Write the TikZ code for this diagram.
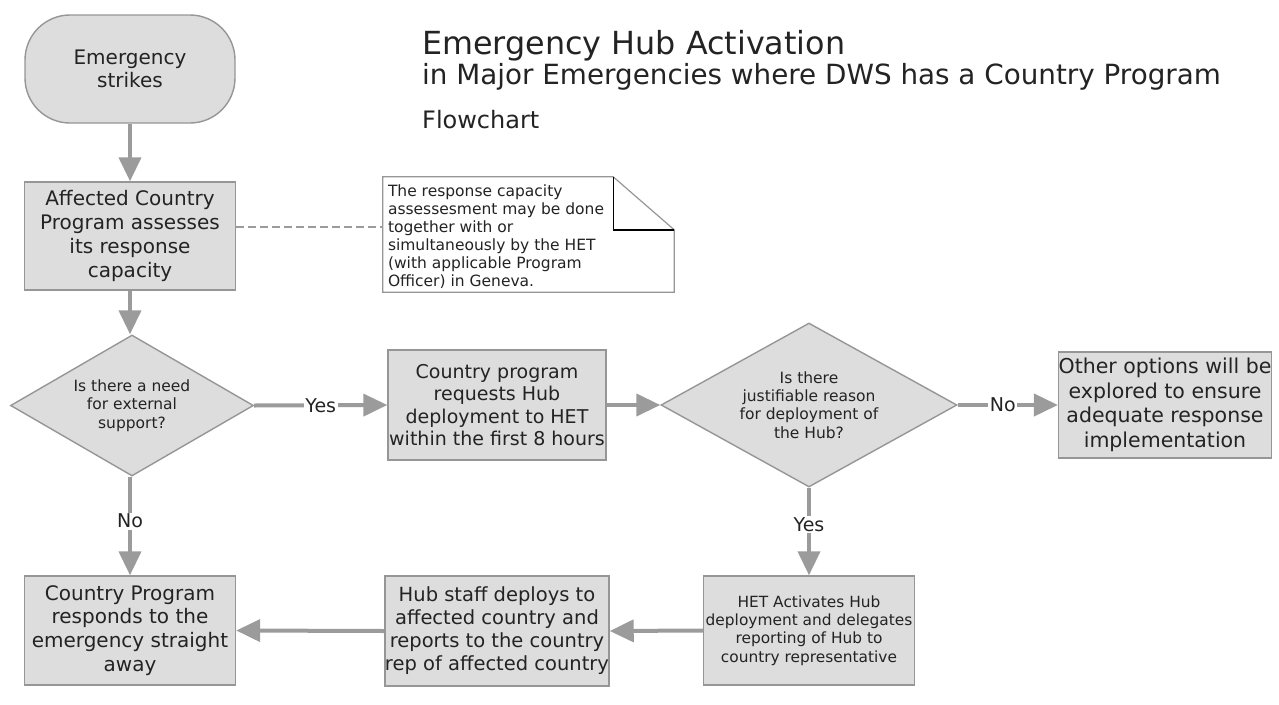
\documentclass[tikz,border=0pt]{standalone}
\usepackage{fontspec}
\setmainfont{DejaVu Sans}
\usetikzlibrary{shapes.geometric,arrows.meta,calc}
\definecolor{boxfill}{RGB}{221,221,221}
\definecolor{boxline}{RGB}{150,150,150}
\definecolor{arr}{RGB}{155,155,155}
\definecolor{txt}{RGB}{35,35,35}
\begin{document}
\begin{tikzpicture}[x=1pt,y=-1pt,
  box/.style={draw=boxline, fill=boxfill, line width=1.4pt, inner sep=0pt, text=txt, align=center},
  procbox/.style={box, minimum width=211pt, minimum height=108pt},
  decision/.style={box, diamond},
  flow/.style={draw=arr, line width=4pt, -{Triangle[length=24pt,width=22pt]}},
  lbl/.style={fill=white, inner sep=1.5pt, text=txt, font=\fontsize{19}{22}\selectfont},
  ttl/.style={anchor=base west, inner sep=0pt, text=txt}]
\useasboundingbox (0,0) rectangle (1279,704);

% title
\node[ttl, font=\fontsize{31.8}{36}\selectfont] (t1) at (422,54) {Emergency Hub Activation};
\node[ttl, font=\fontsize{27.8}{32}\selectfont] (t2) at (422,84) {in Major Emergencies where DWS has a Country Program};
\node[ttl, font=\fontsize{24}{28}\selectfont] (t3) at (422,128) {Flowchart};

% nodes
\node[box, rounded corners=45pt, minimum width=210pt, minimum height=108pt,
      font=\fontsize{20}{22.5}\selectfont] (start) at (130,69) {Emergency\\strikes};
\node[procbox, font=\fontsize{20}{24}\selectfont] (assess) at (130,236)
  {Affected Country\\Program assesses\\its response\\capacity};
\node[decision, shape aspect=1.72, minimum width=243pt, minimum height=141pt,
      font=\fontsize{15.5}{18.5}\selectfont] (need) at (132,405.5)
  {Is there a need\\for external\\support?};
\node[procbox, minimum width=218pt, minimum height=110pt, font=\fontsize{19}{22.5}\selectfont] (req) at (497,405)
  {Country program\\requests Hub\\deployment to HET\\within the first 8 hours};
\node[decision, shape aspect=1.8, minimum width=296pt, minimum height=164pt,
      font=\fontsize{15.5}{18.3}\selectfont] (just) at (809,405)
  {Is there\\justifiable reason\\for deployment of\\the Hub?};
\node[procbox, minimum width=212pt, minimum height=106pt, font=\fontsize{20.5}{24.5}\selectfont] (other) at (1165,405)
  {Other options will be\\explored to ensure\\adequate response\\implementation};
\node[procbox, minimum width=211pt, minimum height=109pt, font=\fontsize{15.4}{18.3}\selectfont] (het) at (809,630.5)
  {HET Activates Hub\\deployment and delegates\\reporting of Hub to\\country representative};
\node[procbox, minimum width=218pt, minimum height=110pt, font=\fontsize{19.5}{23}\selectfont] (hub) at (497,631)
  {Hub staff deploys to\\affected country and\\reports to the country\\rep of affected country};
\node[procbox, minimum width=211pt, minimum height=109pt, font=\fontsize{20}{23.8}\selectfont] (resp) at (130,630.5)
  {Country Program\\responds to the\\emergency straight\\away};

% note with folded corner
\node[minimum width=291pt, minimum height=115pt, inner sep=0pt] (note) at (528.5,234.5) {};
\draw[boxline, line width=1.2pt, fill=white]
  (note.north west) -- ($(note.north east)+(-61,0)$) -- ($(note.north east)+(0,53)$)
  -- (note.south east) -- (note.south west) -- cycle;
\draw[black, line width=1.4pt]
  ($(note.north east)+(-61,0)$) -- ($(note.north east)+(-61,53)$) -- ($(note.north east)+(0,53)$);
\node[anchor=north west, inner sep=0pt, align=left, text=txt, font=\fontsize{15.5}{18}\selectfont]
  (notetext) at ($(note.north west)+(5,8)$)
  {The response capacity\\assessesment may be done\\together with or\\simultaneously by the HET\\(with applicable Program\\Officer) in Geneva.};
\draw[arr, line width=2pt, dash pattern=on 8pt off 4pt]
  ([yshift=9pt]assess.east) -- ([yshift=7.5pt]note.west);

% connectors
\draw[flow] (start) -- (assess);
\draw[flow] (assess.south) -- (assess.south |- need.north);
\draw[flow] (need.east) -- node[lbl] {Yes} (req.west);
\draw[flow] (need.south -| resp.north) -- node[lbl, pos=0.45] {No} (resp.north);
\draw[flow] (req.east) -- (just.west);
\draw[flow] (just.east) -- node[lbl, pos=0.45] {No} (other.west);
\draw[flow] (just.south) -- node[lbl, pos=0.42] {Yes} (het.north);
\draw[flow] (het.west) -- (hub.east);
\draw[flow] (hub.west) -- (resp.east);
\end{tikzpicture}
\end{document}
